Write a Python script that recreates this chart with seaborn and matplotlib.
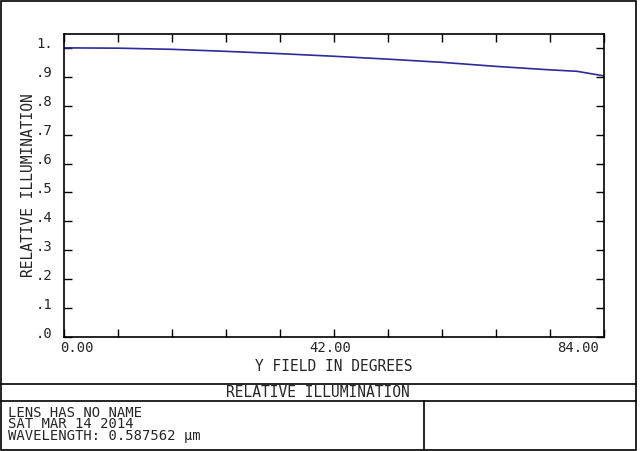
import seaborn as sns
import matplotlib.pyplot as plt
import numpy as np
import pandas as pd
from matplotlib.patches import Rectangle
from matplotlib.lines import Line2D
from matplotlib.transforms import ScaledTranslation

# Relative illumination vs Y field
field_deg = [0.0, 8.4, 16.8, 25.2, 33.6, 42.0, 50.4, 58.8, 67.2, 75.6, 79.8, 84.0]
rel_illum = [1.000, 0.999, 0.995, 0.988, 0.980, 0.971, 0.961, 0.950, 0.936, 0.924, 0.919, 0.903]

x_major = [0.0, 42.0, 84.0]
x_major_labels = ['0.00', '42.00', '84.00']
y_ticks = [0.0, 0.1, 0.2, 0.3, 0.4, 0.5, 0.6, 0.7, 0.8, 0.9, 1.0]
y_labels = ['.0', '.1', '.2', '.3', '.4', '.5', '.6', '.7', '.8', '.9', '1.']

df = pd.DataFrame({'field': field_deg, 'illum': rel_illum})

sns.set_style('white')
plt.rcParams['font.family'] = ['DejaVu Sans Mono']
mono = 'DejaVu Sans Mono'

W, H = 640, 451
fig = plt.figure(figsize=(6.4, 4.51), dpi=100)
ax = fig.add_axes([64 / W, 1 - 337 / H, 540 / W, 303 / H])

sns.lineplot(data=df, x='field', y='illum', ax=ax, color='#2b2b9a', linewidth=1.2)

ax.set_xlim(0, 84)
ax.set_ylim(0, 1.048)
ax.set_xticks(x_major)
ax.set_xticklabels(x_major_labels, fontsize=10)
ax.set_xticks([i * 8.4 for i in range(11) if i not in (0, 5, 10)], minor=True)
ax.set_yticks(y_ticks)
ax.set_yticklabels(y_labels, fontsize=10)

ax.tick_params(axis='both', which='both', direction='in', length=5.5, width=1,
               top=True, right=True, bottom=True, left=True, color='black')
ax.tick_params(axis='x', pad=3)
ax.tick_params(axis='y', pad=8)
for sp in ax.spines.values():
    sp.set_color('black')
    sp.set_linewidth(1.2)

# label offsets like the plotter output
ha = ['left', 'center', 'right']
dx = [-4, -4, -5]
for lab, h, d in zip(ax.get_xticklabels(), ha, dx):
    lab.set_ha(h)
    lab.set_transform(lab.get_transform() + ScaledTranslation(d / 100, 0, fig.dpi_scale_trans))
for lab in ax.get_yticklabels():
    lab.set_transform(lab.get_transform() + ScaledTranslation(0, 5 / 100, fig.dpi_scale_trans))

ax.set_xlabel('Y FIELD IN DEGREES', fontsize=10.5, labelpad=3)
ax.set_ylabel('RELATIVE ILLUMINATION', fontsize=10.5, labelpad=0)


def px(x, y):
    return x / W, 1 - y / H


# outer frame
fig.add_artist(Rectangle(px(1, 450), 635 / W, 449 / H, transform=fig.transFigure,
                         fill=False, edgecolor='black', linewidth=1.2))
# title bar lines
for yy in (384, 401):
    x0, y0 = px(1, yy)
    x1, _ = px(636, yy)
    fig.add_artist(Line2D([x0, x1], [y0, y0], transform=fig.transFigure, color='black', linewidth=1.2))
xv, yv0 = px(424, 401)
_, yv1 = px(424, 450)
fig.add_artist(Line2D([xv, xv], [yv0, yv1], transform=fig.transFigure, color='black', linewidth=1.2))

fig.text(*px(318, 392.5), 'RELATIVE ILLUMINATION', ha='center', va='center', fontsize=10.5, family=mono)
info = ['LENS HAS NO NAME', 'SAT MAR 14 2014', 'WAVELENGTH: 0.587562 \u03bcm']
fig.text(*px(8, 406), '\n'.join(info), ha='left', va='top', fontsize=10,
         family=mono, linespacing=0.76)

fig.savefig('out.png', dpi=100)
